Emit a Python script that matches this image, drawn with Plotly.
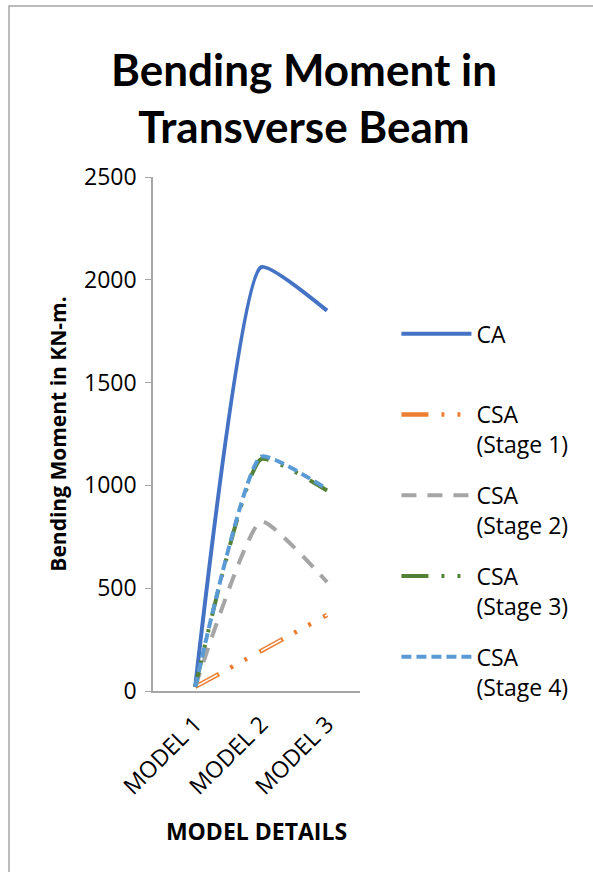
import plotly.graph_objects as go

# Category labels and bending-moment values (kN-m) per analysis case
models = ["MODEL 1", "MODEL 2", "MODEL 3"]
ca = [20, 2062, 1850]
csa_stage1 = [20, 195, 370]
csa_stage2 = [20, 825, 530]
csa_stage3 = [20, 1128, 975]
csa_stage4 = [20, 1140, 982]

TEXT_FONT = "Open Sans"
TITLE_FONT = "Lato"
SMOOTH = 0.45

fig = go.Figure()


def add_line(y, name, color, width, dash, group, show=True):
    fig.add_trace(go.Scatter(
        x=models, y=y, name=name, mode="lines",
        line=dict(color=color, width=width, dash=dash, shape="spline",
                  smoothing=SMOOTH),
        legendgroup=group, showlegend=show, hoverinfo="skip",
    ))


add_line(ca, "CA<br> ", "#4472C4", 4, "solid", "g0")
# Stage 1: hollow (double) long dash followed by two dots
add_line(csa_stage1, "CSA<br>(Stage 1)", "#ED7D31", 4.5,
         "27px,13px,3px,13px,3px,14px", "g1")
add_line(csa_stage1, "", "white", 1.6, "0px,2px,23px,48px", "g1", show=False)
add_line(csa_stage2, "CSA<br>(Stage 2)", "#A5A5A5", 4, "15px,11px", "g2")
add_line(csa_stage3, "CSA<br>(Stage 3)", "#548235", 4,
         "27px,13px,3px,13px,3px,14px", "g3")
add_line(csa_stage4, "CSA<br>(Stage 4)", "#5B9BD5", 4, "10px,5px", "g4")

fig.update_layout(
    width=593, height=872,
    margin=dict(l=153, r=233, t=177, b=181),
    paper_bgcolor="white", plot_bgcolor="white",
    font=dict(family=TEXT_FONT, size=23, color="black"),
    title=dict(
        text="<b>Bending Moment in<br>Transverse Beam</b>",
        font=dict(family=TITLE_FONT, size=44, color="black"),
        x=304 / 593, xanchor="center", xref="container",
        y=1 - 86 / 872, yanchor="top", yref="container",
    ),
    showlegend=True,
    legend=dict(
        x=1.176, xanchor="left", y=0.737, yanchor="top",
        font=dict(family=TEXT_FONT, size=23, color="black"),
        valign="top", tracegroupgap=18, itemwidth=70,
        bgcolor="rgba(0,0,0,0)",
    ),
    xaxis=dict(
        type="category", range=[-0.64, 2.5],
        showline=True, linecolor="#A6A6A6", linewidth=1.5,
        showgrid=False, zeroline=False, ticks="",
        tickangle=-45, tickfont=dict(family=TEXT_FONT, size=23),
        ticklabelstandoff=9,
        title=dict(text="<b>MODEL DETAILS</b>",
                   font=dict(family=TEXT_FONT, size=23), standoff=24),
        fixedrange=True,
    ),
    yaxis=dict(
        range=[0, 2500], dtick=500, tick0=0,
        showline=True, linecolor="#A6A6A6", linewidth=1.5,
        showgrid=False, zeroline=False,
        ticks="outside", ticklen=6, tickcolor="#A6A6A6",
        tickfont=dict(family=TEXT_FONT, size=23),
        ticklabelstandoff=4,
        title=dict(text="<b>Bending Moment in KN-m.</b>",
                   font=dict(family=TEXT_FONT, size=21), standoff=12),
        fixedrange=True,
    ),
    shapes=[dict(
        type="rect", xref="paper", yref="paper",
        x0=-144 / 207, x1=2.4, y0=-0.5, y1=1 + 171 / 514,
        line=dict(color="#A6A6A6", width=1.5), layer="below",
    )],
)

fig.write_html("out.html")
